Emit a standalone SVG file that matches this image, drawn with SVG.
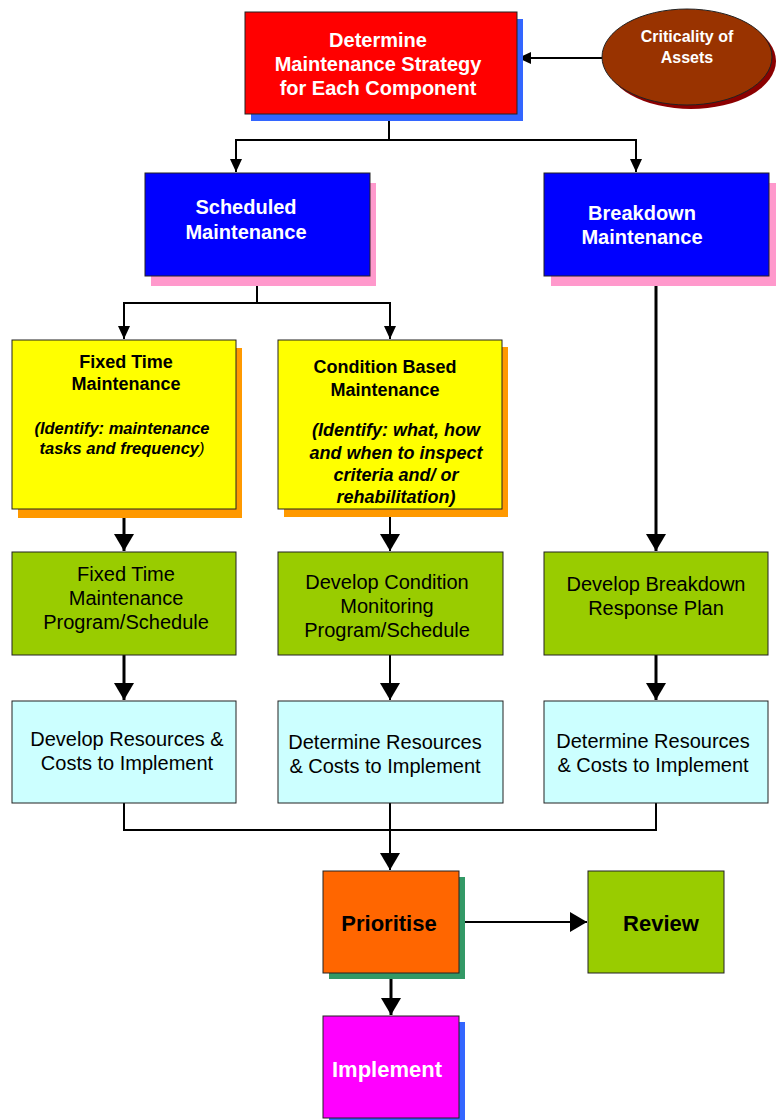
<svg xmlns="http://www.w3.org/2000/svg" width="778" height="1120" viewBox="0 0 778 1120">
<defs>
<style>
.box{stroke:#222;stroke-width:1}
.t{font-family:"Liberation Sans",Arial,sans-serif;text-anchor:middle}
.b{font-weight:bold}
.w{fill:#fff}
.k{fill:#000}
.i{font-style:italic;font-weight:bold}
.ln{fill:none;stroke:#000;stroke-width:2}
.lk{fill:none;stroke:#000;stroke-width:3}
</style>
<marker id="as" markerUnits="userSpaceOnUse" markerWidth="14" markerHeight="12" refX="13" refY="6" orient="auto" viewBox="0 0 14 12"><path d="M0,0 L13,6 L0,12 z" fill="#000"/></marker>
<marker id="al" markerUnits="userSpaceOnUse" markerWidth="18" markerHeight="20" refX="17" refY="10" orient="auto" viewBox="0 0 18 20"><path d="M0,0 L17,10 L0,20 z" fill="#000"/></marker>
</defs>

<g id="connectors">
<line class="ln" x1="602" y1="58" x2="518" y2="58" marker-end="url(#as)"/>
<polyline class="ln" points="389,114 389,140 236,140 236,172" marker-end="url(#as)"/>
<polyline class="ln" points="389,140 636,140 636,172" marker-end="url(#as)"/>
<polyline class="ln" points="257,276 257,303 124,303 124,339" marker-end="url(#as)"/>
<polyline class="ln" points="257,303 390,303 390,339" marker-end="url(#as)"/>
<line class="lk" x1="656" y1="276" x2="656" y2="551" marker-end="url(#al)"/>
<line class="lk" x1="124" y1="509" x2="124" y2="551" marker-end="url(#al)"/>
<line class="ln" x1="390" y1="509" x2="390" y2="551" marker-end="url(#al)"/>
<line class="lk" x1="124" y1="655" x2="124" y2="700" marker-end="url(#al)"/>
<line class="ln" x1="390" y1="655" x2="390" y2="700" marker-end="url(#al)"/>
<line class="lk" x1="656" y1="655" x2="656" y2="700" marker-end="url(#al)"/>
<polyline class="ln" points="124,803 124,830 656,830 656,803"/>
<line class="ln" x1="390" y1="803" x2="390" y2="870" marker-end="url(#al)"/>
<line class="ln" x1="459" y1="922" x2="587" y2="922" marker-end="url(#al)"/>
<line class="lk" x1="391" y1="973" x2="391" y2="1015" marker-end="url(#al)"/>
</g>

<g id="criticality">
<ellipse cx="691" cy="61" rx="85" ry="48" fill="#8B0000"/>
<ellipse class="box" cx="687" cy="57" rx="85" ry="48" fill="#993300"/>
<text class="t b w" x="687" y="42" font-size="16">Criticality of</text>
<text class="t b w" x="687" y="63" font-size="16">Assets</text>
</g>

<g id="strategy">
<rect x="251" y="19" width="272" height="102" fill="#3366FF"/>
<rect class="box" x="245" y="12" width="272" height="102" fill="#FF0000"/>
<text class="t b w" x="378" y="47" font-size="20">Determine</text>
<text class="t b w" x="378" y="71" font-size="20">Maintenance Strategy</text>
<text class="t b w" x="378" y="95" font-size="20">for Each Component</text>
</g>

<g id="scheduled">
<rect x="151" y="183" width="225" height="103" fill="#FF99CC"/>
<rect class="box" x="145" y="173" width="225" height="103" fill="#0000FF"/>
<text class="t b w" x="246" y="214" font-size="20">Scheduled</text>
<text class="t b w" x="246" y="239" font-size="20">Maintenance</text>
</g>

<g id="breakdown">
<rect x="551" y="183" width="225" height="103" fill="#FF99CC"/>
<rect class="box" x="544" y="173" width="225" height="103" fill="#0000FF"/>
<text class="t b w" x="642" y="220" font-size="20">Breakdown</text>
<text class="t b w" x="642" y="244" font-size="20">Maintenance</text>
</g>

<g id="fixed-time">
<rect x="18" y="348" width="224" height="170" fill="#FF9900"/>
<rect class="box" x="12" y="340" width="224" height="169" fill="#FFFF00"/>
<text class="t b k" x="126" y="368" font-size="18">Fixed Time</text>
<text class="t b k" x="126" y="390" font-size="18">Maintenance</text>
<text class="t i k" x="122" y="434" font-size="16.5">(Identify: maintenance</text>
<text class="t i k" x="122" y="454" font-size="16.5">tasks and frequency<tspan font-weight="normal">)</tspan></text>
</g>

<g id="condition-based">
<rect x="284" y="347" width="224" height="170" fill="#FF9900"/>
<rect class="box" x="278" y="340" width="224" height="169" fill="#FFFF00"/>
<text class="t b k" x="385" y="373" font-size="18">Condition Based</text>
<text class="t b k" x="385" y="396" font-size="18">Maintenance</text>
<text class="t i k" x="396" y="436" font-size="18">(Identify: what, how</text>
<text class="t i k" x="396" y="459" font-size="18">and when to inspect</text>
<text class="t i k" x="396" y="481" font-size="18">criteria and/ or</text>
<text class="t i k" x="396" y="503" font-size="18">rehabilitation)</text>
</g>

<g id="fixed-program">
<rect class="box" x="12" y="552" width="224" height="103" fill="#99CC00"/>
<text class="t k" x="126" y="581" font-size="20">Fixed Time</text>
<text class="t k" x="126" y="605" font-size="20">Maintenance</text>
<text class="t k" x="126" y="629" font-size="20">Program/Schedule</text>
</g>

<g id="condition-program">
<rect class="box" x="278" y="552" width="225" height="103" fill="#99CC00"/>
<text class="t k" x="387" y="589" font-size="20">Develop Condition</text>
<text class="t k" x="387" y="613" font-size="20">Monitoring</text>
<text class="t k" x="387" y="637" font-size="20">Program/Schedule</text>
</g>

<g id="breakdown-plan">
<rect class="box" x="544" y="552" width="224" height="103" fill="#99CC00"/>
<text class="t k" x="656" y="591" font-size="20">Develop Breakdown</text>
<text class="t k" x="656" y="615" font-size="20">Response Plan</text>
</g>

<g id="fixed-resources">
<rect class="box" x="12" y="701" width="224" height="102" fill="#CCFFFF"/>
<text class="t k" x="127" y="746" font-size="20">Develop Resources &amp;</text>
<text class="t k" x="127" y="770" font-size="20">Costs to Implement</text>
</g>

<g id="condition-resources">
<rect class="box" x="278" y="701" width="225" height="102" fill="#CCFFFF"/>
<text class="t k" x="385" y="749" font-size="20">Determine Resources</text>
<text class="t k" x="385" y="773" font-size="20">&amp; Costs to Implement</text>
</g>

<g id="breakdown-resources">
<rect class="box" x="544" y="701" width="224" height="102" fill="#CCFFFF"/>
<text class="t k" x="653" y="748" font-size="20">Determine Resources</text>
<text class="t k" x="653" y="772" font-size="20">&amp; Costs to Implement</text>
</g>

<g id="prioritise">
<rect x="329" y="877" width="136" height="102" fill="#339966"/>
<rect class="box" x="323" y="871" width="136" height="102" fill="#FF6600"/>
<text class="t b k" x="389" y="931" font-size="22">Prioritise</text>
</g>

<g id="review">
<rect class="box" x="588" y="871" width="136" height="102" fill="#99CC00"/>
<text class="t b k" x="661" y="931" font-size="22">Review</text>
</g>

<g id="implement">
<rect x="329" y="1022" width="136" height="98" fill="#3366FF"/>
<rect class="box" x="323" y="1016" width="136" height="102" fill="#FF00FF"/>
<text class="t b w" x="387" y="1077" font-size="22">Implement</text>
</g>
</svg>
